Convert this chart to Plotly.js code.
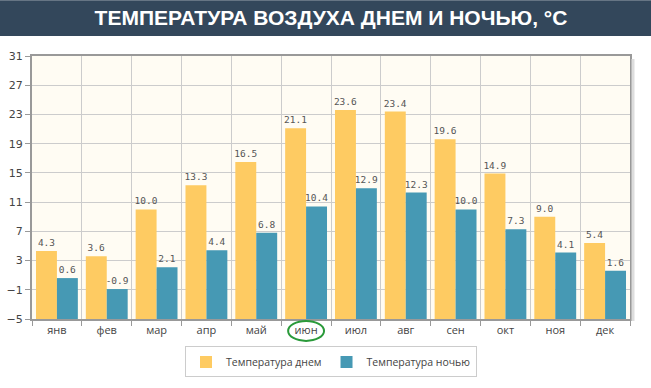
<!DOCTYPE html>
<html><head><meta charset="utf-8">
<script src="https://cdn.plot.ly/plotly-3.0.1.min.js"></script>
<style>html,body{margin:0;padding:0;background:#fff;}#chart{width:651px;height:388px;}</style>
</head><body><div id="chart"></div>
<script>
const months = ['янв','фев','мар','апр','май','июн','июл','авг','сен','окт','ноя','дек'];
const dayTemp = [4.3,3.6,10.0,13.3,16.5,21.1,23.6,23.4,19.6,14.9,9.0,5.4];
const nightTemp = [0.6,-0.9,2.1,4.4,6.8,10.4,12.9,12.3,10.0,7.3,4.1,1.6];
const yTicks = [-5,-1,3,7,11,15,19,23,27,31];
const baseVal = -5;

const labelFont = {family:'DejaVu Sans Mono, monospace', size:9.5, color:'#555'};
function mk(name, vals, color){
  return {
    type:'bar', name:name, x:months,
    y: vals.map(v=>v-baseVal), base: baseVal,
    text: vals.map(v=>v.toFixed(1)), textposition:'outside', constraintext:'none',
    textfont: labelFont, cliponaxis:false,
    marker:{color:color, line:{width:0}}, hoverinfo:'skip'
  };
}
const data = [mk('Температура днем', dayTemp, '#fecb62'), mk('Температура ночью', nightTemp, '#4699b4')];

const pw = 598, ph = 264, ml = 32, mt = 56;
const layout = {
  width:651, height:388,
  margin:{l:ml, r:21, t:mt, b:68},
  paper_bgcolor:'#ffffff', plot_bgcolor:'#fffcf3',
  barmode:'group', bargap:0.16, bargroupgap:0,
  showlegend:true,
  legend:{orientation:'h', x:0.5, xanchor:'center', y:-0.1, yanchor:'top',
    bordercolor:'#cccccc', borderwidth:1, font:{family:'Open Sans, sans-serif', size:10.5, color:'#444'},
    itemwidth:30, tracegroupgap:0},
  title:{text:'ТЕМПЕРАТУРА ВОЗДУХА ДНЕМ И НОЧЬЮ, °C', x:0.5, xref:'paper', xanchor:'center',
    y:1-18/388, yref:'container', yanchor:'middle',
    font:{family:'Liberation Sans, Arial, sans-serif', size:21, color:'#ffffff', weight:'bold'}},
  xaxis:{type:'category', tickson:'boundaries', ticks:'outside', ticklen:5, tickcolor:'#999',
    showgrid:true, gridcolor:'#cccccc', gridwidth:1,
    showline:true, linecolor:'#999999', linewidth:2, mirror:true,
    tickfont:{family:'Open Sans, sans-serif', size:11, color:'#444'}, fixedrange:true},
  yaxis:{range:[-5,31], tickvals:yTicks, ticks:'outside', ticklen:5, tickcolor:'#999',
    showgrid:true, gridcolor:'#cccccc', zeroline:false,
    showline:true, linecolor:'#999999', linewidth:2, mirror:true,
    tickfont:{family:'DejaVu Sans, sans-serif', size:11, color:'#444'}, fixedrange:true},
  shapes:[
    {type:'rect', xref:'paper', yref:'paper', x0:-ml/pw, x1:1+21/pw, y0:1+20/ph, y1:1+mt/ph,
      fillcolor:'#33475b', line:{width:0}, layer:'below'},
    {type:'line', xref:'paper', yref:'paper', x0:1+3/pw, x1:1+3/pw, y0:-2/ph, y1:1-3/ph,
      line:{color:'#dddddd', width:3}},
    {type:'circle', xref:'x', yref:'paper', x0:4.64, x1:5.36, y0:-22/ph, y1:-2/ph,
      line:{color:'#2a9a3a', width:2}, fillcolor:'rgba(0,0,0,0)'}
  ]
};
Plotly.newPlot('chart', data, layout, {displayModeBar:false, staticPlot:true});
</script></body></html>
